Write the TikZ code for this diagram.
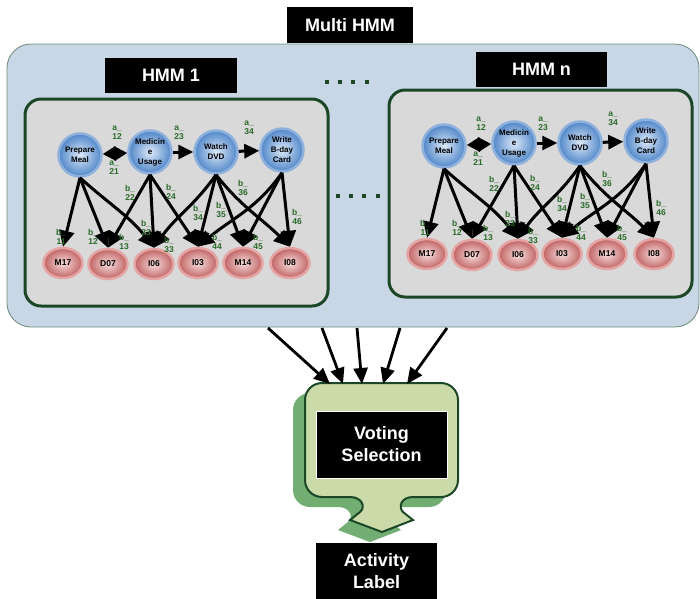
\documentclass[tikz,border=0pt]{standalone}
\usepackage{fontspec}
\setmainfont{Liberation Sans}
\usetikzlibrary{arrows.meta,shapes.geometric}
\definecolor{outerblue}{HTML}{C9D6E5}
\definecolor{outerline}{HTML}{6A8A7A}
\definecolor{hmmgray}{HTML}{D9D9D9}
\definecolor{hmmgreen}{HTML}{1B4727}
\definecolor{labgreen}{HTML}{2A6A2A}
\definecolor{stateouter}{HTML}{4F86C8}
\definecolor{stateinner}{HTML}{DCE8F8}
\definecolor{statering}{HTML}{8DB0DD}
\definecolor{obsouter}{HTML}{C06262}
\definecolor{obsinner}{HTML}{F7DCDC}
\definecolor{obsring}{HTML}{E4A4A4}
\definecolor{voteface}{HTML}{CADBA9}
\definecolor{voteshadow}{HTML}{72AD72}
\tikzset{
  blacklabel/.style={fill=black, text=white, font=\bfseries\fontsize{18}{22}\selectfont, align=center, inner sep=0pt},
  state/.style={circle, minimum size=43pt, inner sep=0pt, draw=statering, line width=2.5pt, inner color=stateinner, outer color=stateouter, font=\bfseries\fontsize{8}{10}\selectfont, align=center, text=black},
  obs/.style={ellipse, minimum width=39pt, minimum height=30pt, inner sep=0pt, draw=obsring, line width=2.5pt, inner color=obsinner, outer color=obsouter, font=\bfseries\fontsize{8.5}{10}\selectfont, text=black},
  emit/.style={line width=3pt, -{Triangle[length=16pt,width=15pt]}},
  trans/.style={line width=3pt, -{Triangle[length=15pt,width=14pt]}},
  plab/.style={text=labgreen, font=\bfseries\fontsize{8.5}{9}\selectfont, align=center, inner sep=0pt},
  hmmbox/.style={draw=hmmgreen, line width=3pt, fill=hmmgray, rounded corners=16pt},
  bigarrow/.style={line width=2.8pt, -{Triangle[length=16pt,width=14pt]}},
  dotsq/.style={fill=hmmgreen, minimum size=3.5pt, inner sep=0pt, rectangle},
}
\begin{document}
\begin{tikzpicture}[x=1pt,y=-1pt]
\useasboundingbox (0,0) rectangle (700,598);
% outer multi HMM box
\draw[fill=outerblue, draw=outerline, line width=0.8pt, rounded corners=24pt] (7,44) rectangle (699,327);
\node[blacklabel, minimum width=126pt, minimum height=36pt] (multi) at (350,25) {Multi HMM};

% dots
\foreach \i/\x in {1/327,2/340,3/353,4/367} {
  \node[dotsq] (td\i) at (\x,82) {};
}
\foreach \i/\x in {1/338,2/351,3/364,4/378} {
  \node[dotsq] (md\i) at (\x,196) {};
}

% the two HMMs
\foreach \p/\dx/\dy in {a/0/0, b/364/-9} {
\begin{scope}[shift={(\dx,\dy)}]
  \draw[hmmbox] (25,99) rectangle (328,306);
  \node[state] (\p pm) at (80,155) {Prepare\\Meal};
  \node[state] (\p mu) at (150,152) {Medicin\\e\\Usage};
  \node[state] (\p wd) at (216,152) {Watch\\DVD};
  \node[state] (\p wc) at (282,150) {Write\\B-day\\Card};
  \node[obs] (\p m17) at (63,263) {M17};
  \node[obs] (\p d07) at (108,264) {D07};
  \node[obs] (\p i06) at (154,264) {I06};
  \node[obs] (\p i03) at (198,263) {I03};
  \node[obs] (\p m14) at (243,263) {M14};
  \node[obs] (\p i08) at (290,263) {I08};
  % transitions
  \draw[line width=3pt, {Triangle[length=13pt,width=14pt]}-{Triangle[length=13pt,width=14pt]}] (\p pm) -- (\p mu);
  \draw[trans] (\p mu) -- (\p wd);
  \draw[trans] (\p wd) -- (\p wc);
  % emissions
  \draw[emit] (\p pm.south) -- (\p m17.north);
  \draw[emit] (\p pm.south) -- (\p d07.north);
  \draw[emit] (\p pm.south) to[out=-42,in=128] (\p i06.north);
  \draw[emit] (\p mu.south) -- (\p d07.north);
  \draw[emit] (\p mu.south) -- (\p i06.north);
  \draw[emit] (\p mu.south) -- (\p i03.north);
  \draw[emit] (\p wd.south) to[out=-125,in=55] (\p i06.north);
  \draw[emit] (\p wd.south) -- (\p i03.north);
  \draw[emit] (\p wd.south) -- (\p m14.north);
  \draw[emit] (\p wd.south) to[out=-52,in=135] (\p i08.north);
  \draw[emit] (\p wc.south) to[out=-125,in=40] (\p i03.north);
  \draw[emit] (\p wc.south) -- (\p m14.north);
  \draw[emit] (\p wc.south) -- (\p i08.north);
  % labels
  \node[plab] (\p a12) at (117,133) {a\_\\12};
  \node[plab] (\p a21) at (114,168) {a\_\\21};
  \node[plab] (\p a23) at (179,133) {a\_\\23};
  \node[plab] (\p a34) at (249,128) {a\_\\34};
  \node[plab] (\p b11) at (61,237) {b\_\\11};
  \node[plab] (\p b12) at (93,237) {b\_\\12};
  \node[plab] (\p b13) at (124,242) {b\_\\13};
  \node[plab] (\p b22) at (130,193) {b\_\\22};
  \node[plab] (\p b23) at (146,228) {b\_\\23};
  \node[plab] (\p b24) at (171,192) {b\_\\24};
  \node[plab] (\p b33) at (169,245) {b\_\\33};
  \node[plab] (\p b34) at (198,213) {b\_\\34};
  \node[plab] (\p b35) at (221,210) {b\_\\35};
  \node[plab] (\p b36) at (243,188) {b\_\\36};
  \node[plab] (\p b44) at (217,242) {b\_\\44};
  \node[plab] (\p b45) at (258,242) {b\_\\45};
  \node[plab] (\p b46) at (297,217) {b\_\\46};
\end{scope}
}
\node[blacklabel, minimum width=132pt, minimum height=35pt] (hmm1) at (171,75.5) {HMM 1};
\node[blacklabel, minimum width=131pt, minimum height=35pt] (hmmn) at (541.5,69.5) {HMM n};

% voting shape (y axis points down: angle 90 is down)
\def\voteshape{(305,400) -- (305,480) arc[start angle=180,end angle=90,radius=17] -- (350,497)
  .. controls (362,497) and (366,507) .. (360,512) -- (350,520) -- (382,532) -- (413,520) -- (403,512)
  .. controls (398,507) and (401,497) .. (413,497) -- (441,497) arc[start angle=90,end angle=0,radius=17]
  -- (458,400) arc[start angle=0,end angle=-90,radius=17] -- (322,383) arc[start angle=-90,end angle=-180,radius=17] -- cycle}
\fill[voteshadow, shift={(-12,10)}] \voteshape;
\draw[fill=voteface, draw=hmmgreen, line width=2pt] \voteshape;
\node[blacklabel, draw=white, line width=0.6pt, minimum width=131pt, minimum height=67pt] (vote) at (381.5,444.5) {Voting\\Selection};
\node[blacklabel, minimum width=121pt, minimum height=57pt] (act) at (376.5,571.5) {Activity\\Label};

% arrows to voting
\foreach \i/\sx/\ex in {1/268/330, 2/322/343, 3/357/362, 4/400/383, 5/447/407} {
  \coordinate (s\i) at (\sx,328);
  \coordinate (e\i) at (\ex,384);
  \draw[bigarrow] (s\i) -- (e\i);
}
\end{tikzpicture}
\end{document}
